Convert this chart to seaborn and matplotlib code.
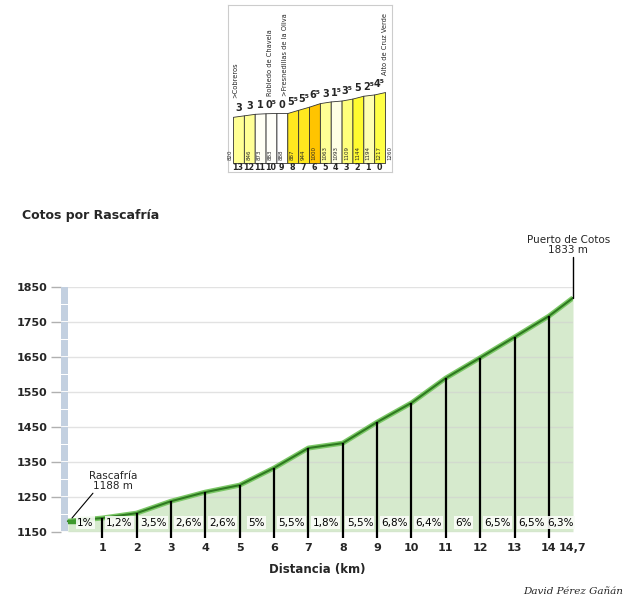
import numpy as np
import pandas as pd
import matplotlib
matplotlib.use("Agg")
import matplotlib.pyplot as plt
import seaborn as sns
from matplotlib.colors import LinearSegmentedColormap

# ---------------- main profile data ----------------
km = [0, 1, 2, 3, 4, 5, 6, 7, 8, 9, 10, 11, 12, 13, 14, 14.7]
elev = [1180, 1189, 1203, 1237, 1263, 1283, 1332, 1389, 1403, 1463, 1518,
        1589, 1647, 1706, 1766, 1818]
grade_labels = ["1%", "1,2%", "3,5%", "2,6%", "2,6%", "5%", "5,5%", "1,8%",
                "5,5%", "6,8%", "6,4%", "6%", "6,5%", "6,5%", "6,3%"]
xtick_vals = [1, 2, 3, 4, 5, 6, 7, 8, 9, 10, 11, 12, 13, 14, 14.7]
xtick_labels = ["1", "2", "3", "4", "5", "6", "7", "8", "9", "10", "11",
                "12", "13", "14", "14,7"]
ytick_vals = [1150, 1250, 1350, 1450, 1550, 1650, 1750, 1850]
start_name, start_elev = "Rascafría", 1188
summit_name, summit_elev = "Puerto de Cotos", 1833
title = "Cotos por Rascafría"
xlabel = "Distancia (km)"
author = "David Pérez Gañán"

# ---------------- inset profile data ----------------
inset_elev = [820, 846, 873, 883, 888, 887, 944, 1000, 1063, 1093, 1109,
              1144, 1194, 1217, 1260]
inset_grades = [3, 3, 1, 0.5, 0, 5.5, 5.5, 6.5, 3, 1.5, 3.5, 5, 2.5, 4.5]
inset_km_labels = ["13", "12", "11", "10", "9", "8", "7", "6", "5", "4",
                   "3", "2", "1", "0"]
inset_places = [">Cobreros", "Robledo de Chavela",
                ">Fresnedillas de la Oliva", "Alto de Cruz Verde"]
inset_place_pos = [0.2, 3.4, 4.8, 14.0]

sns.set_theme(style="white")
plt.rcParams["font.family"] = ["DejaVu Sans"]

W, H = 640, 610
fig = plt.figure(figsize=(W / 100, H / 100), dpi=100)
fig.patch.set_facecolor("white")

# ---------------- main axes ----------------
ax = fig.add_axes([61 / W, 1 - 531.7 / H, 512 / W, 245 / H])
ax.set_xlim(-0.2, 14.7)
ax.set_ylim(1150, 1850)
ax.set_facecolor("white")

for y in ytick_vals:
    ax.axhline(y, color="#d0d0d0", lw=1.0, alpha=0.6, zorder=1.5)

ax.fill_between(km, elev, 1150, color="#d6eacd", lw=0, zorder=1)

# decorative segmented bar on the left
seg_b = np.arange(1152, 1850, 50)
ax.bar(np.full(len(seg_b), -0.1), 46, bottom=seg_b, width=0.19,
       color="#c3d0e0", lw=0, zorder=2)

df = pd.DataFrame({"km": km, "elev": elev})
sns.lineplot(data=df, x="km", y="elev", ax=ax, color="#7cc867", lw=3.6,
             zorder=3, solid_capstyle="butt")
sns.lineplot(data=df, x="km", y="elev", ax=ax, color="#2e7a20", lw=1.5,
             zorder=3.5)
ax.plot([0, 0.3], [1179, 1179], color="#3d9a2c", lw=3.2, zorder=3.6,
        solid_capstyle="butt")

ax.vlines(km[1:15], 1132, elev[1:15], color="black", lw=1.6, zorder=4,
          clip_on=False)

for i, lab in enumerate(grade_labels):
    xm = (km[i] + km[i + 1]) / 2
    ax.text(xm, 1176, lab, ha="center", va="center", fontsize=7.5,
            color="black", zorder=5,
            bbox=dict(boxstyle="square,pad=0.12", fc="#fafcf8", ec="none",
                      alpha=0.9))

ax.set_yticks(ytick_vals)
ax.set_yticklabels([str(v) for v in ytick_vals], fontsize=8,
                   fontweight="bold")
ax.tick_params(axis="y", length=7, color="#b0b0b0", width=1, pad=3,
               left=True)
ax.set_xticks(xtick_vals)
ax.set_xticklabels(xtick_labels, fontsize=8, fontweight="bold")
ax.tick_params(axis="x", length=0, pad=8)
for s in ax.spines.values():
    s.set_visible(False)
ax.set_xlabel(xlabel, fontsize=8.5, fontweight="bold", labelpad=7)
ax.set_ylabel("")

# annotations
ax.plot([0.12, 0.73], [1189, 1260], color="black", lw=0.8, zorder=5)
ax.text(1.31, 1265, f"{start_name}\n{start_elev} m", ha="center",
        va="bottom", fontsize=7.5, linespacing=1.0, zorder=5)
ax.plot([km[-1], km[-1]], [elev[-1], 1935], color="black", lw=1.0,
        zorder=5, clip_on=False)
ax.text(14.56, 1942, f"{summit_name}\n{summit_elev} m", ha="center",
        va="bottom", fontsize=7.5, linespacing=1.0, clip_on=False)

fig.text(22 / W, 1 - 215 / H, title, fontsize=9, fontweight="bold",
         va="center", ha="left")
fig.text(573 / W, 1 - 591 / H, author, fontsize=7.5, style="italic",
         family="DejaVu Serif", ha="center", va="center")

# ---------------- inset axes ----------------
ax2 = fig.add_axes([228 / W, 1 - 172 / H, 164 / W, 167 / H])
ax2.set_xlim(-0.46, 14.64)
ax2.set_ylim(-160, 2805)
ax2.set_facecolor("white")
cmap = LinearSegmentedColormap.from_list(
    "yel", [(0, "#ffffff"), (0.2, "#fffff0"), (0.45, "#ffff99"),
            (0.75, "#ffff33"), (1.0, "#ffc400")])
for i, g in enumerate(inset_grades):
    ax2.fill_between([i, i + 1], [inset_elev[i], inset_elev[i + 1]], 0,
                     color=cmap(g / 6.5), ec="#333333", lw=0.6, zorder=2)
    txt = f"{int(g)}" + ("⁵" if g % 1 else "")
    ax2.text(i + 0.5, max(inset_elev[i], inset_elev[i + 1]) + 50, txt,
             ha="center", va="bottom", fontsize=7, fontweight="bold",
             zorder=3)
    ax2.text(i + 0.45, -75, inset_km_labels[i], ha="center", va="center",
             fontsize=5.8, fontweight="bold")
for k, e in enumerate(inset_elev):
    if k == 0:
        xx = -0.28
    elif k == len(inset_elev) - 1:
        xx = 14.45
    else:
        xx = k + 0.45
    ax2.text(xx, 50, str(e), rotation=90, ha="center", va="bottom",
             fontsize=4, zorder=4)
for name, p in zip(inset_places, inset_place_pos):
    i = int(min(p, 13.99))
    top = max(inset_elev[i], inset_elev[i + 1])
    ax2.text(p, top + 300, name, rotation=90, ha="center", va="bottom",
             fontsize=4.8, zorder=4)
ax2.set_xticks([])
ax2.set_yticks([])
for s in ax2.spines.values():
    s.set_color("#cccccc")
    s.set_linewidth(0.8)

fig.savefig("out.png", dpi=100)
